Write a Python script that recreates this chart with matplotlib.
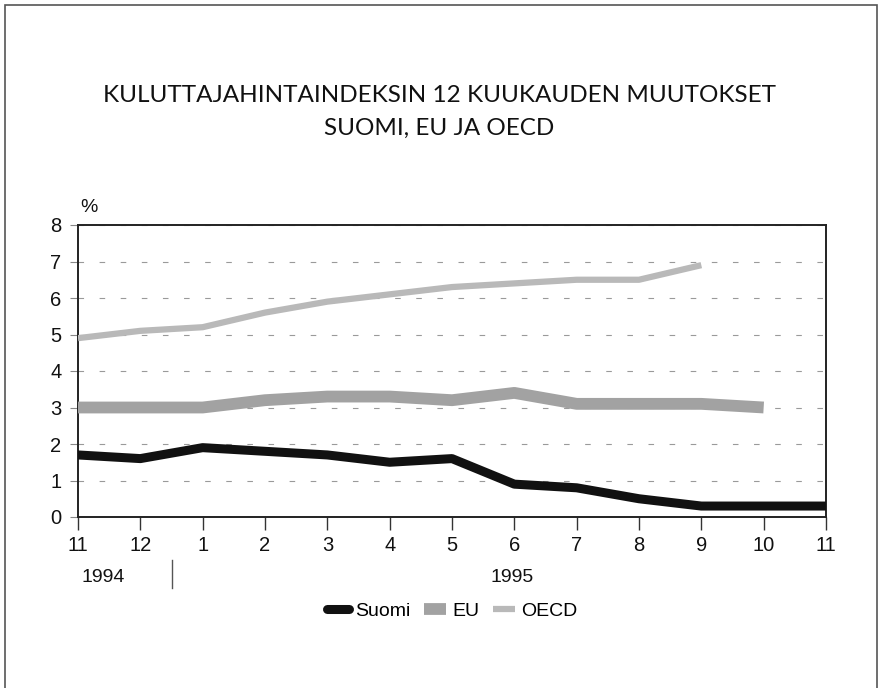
import matplotlib
matplotlib.use("Agg")
import matplotlib.pyplot as plt
from matplotlib.lines import Line2D
from matplotlib.patches import Rectangle

months = ["11", "12", "1", "2", "3", "4", "5", "6", "7", "8", "9", "10", "11"]
suomi = [1.7, 1.6, 1.9, 1.8, 1.7, 1.5, 1.6, 0.9, 0.8, 0.5, 0.3, 0.3, 0.3]
eu = [3.0, 3.0, 3.0, 3.2, 3.3, 3.3, 3.2, 3.4, 3.1, 3.1, 3.1, 3.0]
oecd = [4.9, 5.1, 5.2, 5.6, 5.9, 6.1, 6.3, 6.4, 6.5, 6.5, 6.9]
yticks = [0, 1, 2, 3, 4, 5, 6, 7, 8]
title_lines = ["KULUTTAJAHINTAINDEKSIN 12 KUUKAUDEN MUUTOKSET", "SUOMI, EU JA OECD"]

tick_font = ["Liberation Sans", "DejaVu Sans"]
title_font = ["Lato", "DejaVu Sans"]

fig = plt.figure(figsize=(8.79, 6.88), dpi=100)
fig.patch.set_facecolor("white")

fig.add_artist(Rectangle((5 / 879, -0.01), 872 / 879, 1 - 5 / 688 + 0.01,
                         transform=fig.transFigure, fill=False,
                         edgecolor="#555555", linewidth=1.2))

ax = fig.add_axes([78 / 879, 1 - 517 / 688, 748 / 879, 292 / 688])
x = list(range(len(months)))

EU_C, OECD_C = "#a2a2a2", "#b9b9b9"
ax.plot(x[:len(eu)], eu, color=EU_C, linewidth=8.5, solid_capstyle="butt",
        solid_joinstyle="round", zorder=3)
ax.plot(x[:len(oecd)], oecd, color=OECD_C, linewidth=4.5, solid_capstyle="butt",
        solid_joinstyle="round", zorder=3)
ax.plot(x, suomi, color="#111111", linewidth=6.5, solid_capstyle="round",
        solid_joinstyle="round", zorder=4)

ax.set_xlim(0, len(months) - 1)
ax.set_ylim(0, 8)
ax.set_yticks(yticks)
ax.set_xticks(x)
ax.set_xticklabels(months)
ax.grid(axis="y", color="#9a9a9a", linestyle=(0, (5, 14)), linewidth=0.8)
for s in ax.spines.values():
    s.set_color("#222222")
    s.set_linewidth(1.4)
ax.tick_params(axis="x", direction="out", length=9, width=1, color="#333333", pad=5)
ax.tick_params(axis="y", direction="out", length=6, width=0.8, color="#888888", pad=6)
for lab in ax.get_xticklabels() + ax.get_yticklabels():
    lab.set_fontfamily(tick_font)
    lab.set_fontsize(14.5)
    lab.set_color("#111111")

fig.text(80 / 879, 1 - 207 / 688, "%", fontsize=14, family=tick_font,
         ha="left", va="center", color="#111111")

fig.text(103 / 879, 1 - 577 / 688, "1994", fontsize=14, family=tick_font,
         ha="center", va="center", color="#111111")
fig.text(512 / 879, 1 - 577 / 688, "1995", fontsize=14, family=tick_font,
         ha="center", va="center", color="#111111")
fig.add_artist(Line2D([172 / 879, 172 / 879], [1 - 560 / 688, 1 - 588 / 688],
                      transform=fig.transFigure, color="#555555", linewidth=1))

fig.text(0.5, 1 - 96 / 688, title_lines[0], fontsize=17.5, family=title_font,
         ha="center", va="center", color="#111111")
fig.text(0.5, 1 - 128 / 688, title_lines[1], fontsize=17.5, family=title_font,
         ha="center", va="center", color="#111111")

h_su = Line2D([], [], color="#111111", linewidth=6.5, solid_capstyle="round")
h_eu = Line2D([], [], color=EU_C, linewidth=8.5, solid_capstyle="butt")
h_oe = Line2D([], [], color=OECD_C, linewidth=4.5, solid_capstyle="butt")
leg = fig.legend([h_su, h_eu, h_oe], ["Suomi", "EU", "OECD"], loc="center",
                 bbox_to_anchor=(452 / 879, 1 - 611 / 688), ncol=3, frameon=False,
                 handlelength=1.15, handletextpad=0.3, columnspacing=0.7,
                 prop={"family": tick_font, "size": 14})

fig.savefig("out.png", dpi=100, facecolor="white")
